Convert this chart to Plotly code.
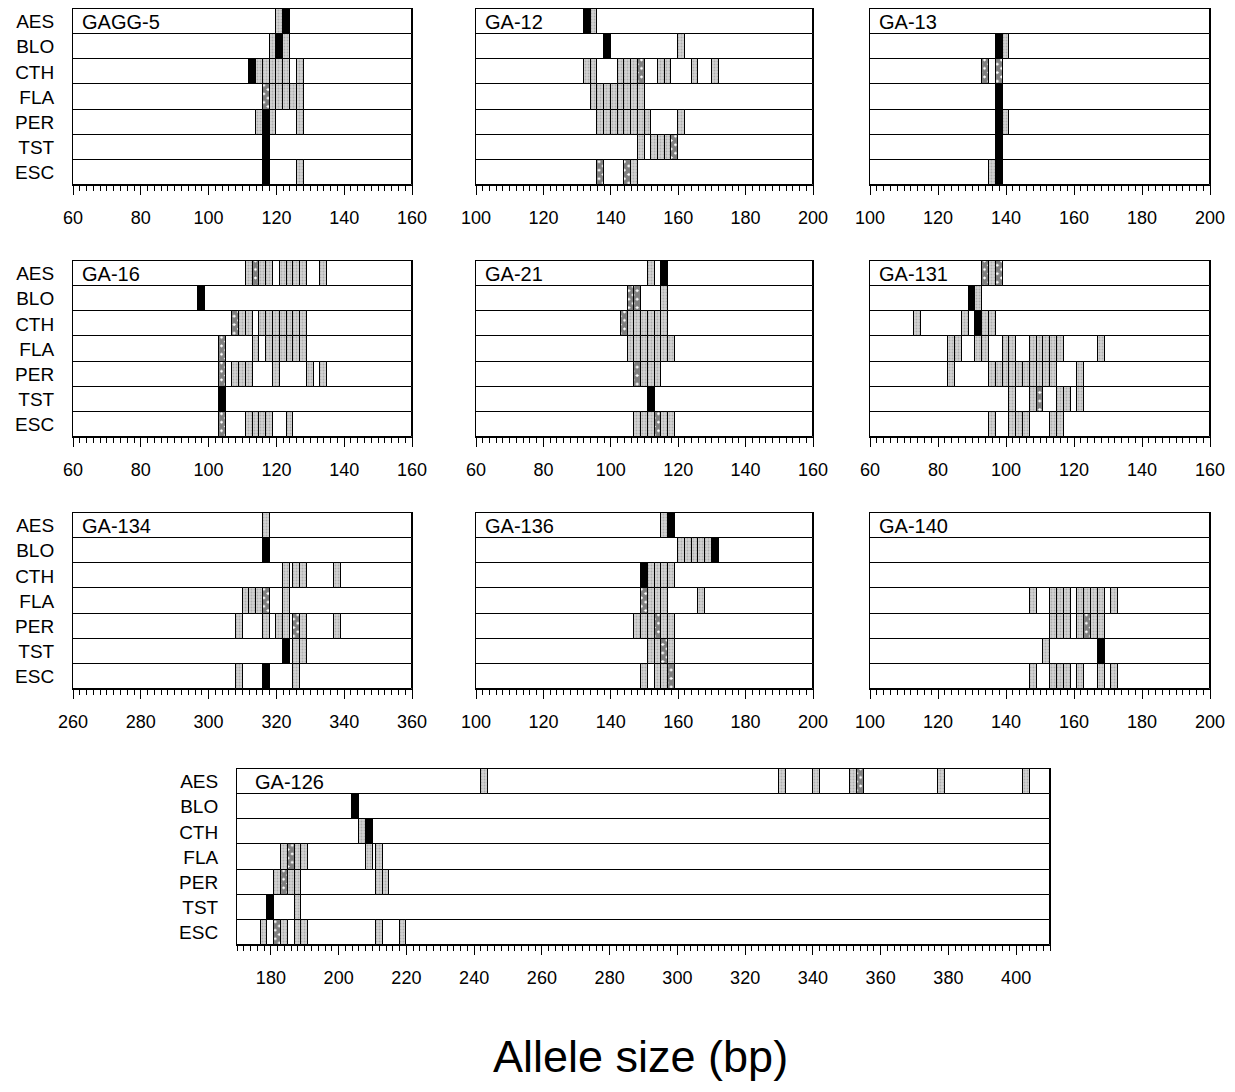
import plotly.graph_objects as go

# ---------------- data ----------------
POPULATIONS = ["AES", "BLO", "CTH", "FLA", "PER", "TST", "ESC"]
LOCI = ["GAGG-5", "GA-12", "GA-13", "GA-16", "GA-21", "GA-131",
        "GA-134", "GA-136", "GA-140", "GA-126"]
X_RANGES = [(60, 160), (100, 200), (100, 200), (60, 160), (60, 160), (60, 160),
            (260, 360), (100, 200), (100, 200), (170, 410)]

# allele (bp, centre of bar) and frequency class: L = low (stippled), M = medium (cross-hatched), H = high (black)
GAGG_5 = {
    "AES": [(121, "L"), (123, "H")],
    "BLO": [(119, "L"), (121, "H"), (123, "L")],
    "CTH": [(113, "H"), (115, "L"), (117, "L"), (119, "L"), (121, "L"), (123, "L"), (127, "L")],
    "FLA": [(117, "M"), (119, "L"), (121, "L"), (123, "L"), (125, "L"), (127, "L")],
    "PER": [(115, "L"), (117, "H"), (119, "L"), (127, "L")],
    "TST": [(117, "H")],
    "ESC": [(117, "H"), (127, "L")],
}
GA_12 = {
    "AES": [(133, "H"), (135, "L")],
    "BLO": [(139, "H"), (161, "L")],
    "CTH": [(133, "L"), (135, "L"), (143, "L"), (145, "L"), (147, "L"), (149, "M"),
            (155, "L"), (157, "L"), (165, "L"), (171, "L")],
    "FLA": [(135, "L"), (137, "L"), (139, "L"), (141, "L"), (143, "L"), (145, "L"), (147, "L"), (149, "L")],
    "PER": [(137, "L"), (139, "L"), (141, "L"), (143, "L"), (145, "L"), (147, "L"), (149, "L"),
            (151, "L"), (161, "L")],
    "TST": [(149, "L"), (153, "L"), (155, "L"), (157, "L"), (159, "M")],
    "ESC": [(137, "M"), (145, "M"), (147, "L")],
}
GA_13 = {
    "AES": [],
    "BLO": [(138, "H"), (140, "L")],
    "CTH": [(134, "M"), (138, "M")],
    "FLA": [(138, "H")],
    "PER": [(138, "H"), (140, "L")],
    "TST": [(138, "H")],
    "ESC": [(136, "L"), (138, "H")],
}
GA_16 = {
    "AES": [(112, "L"), (114, "M"), (116, "L"), (118, "L"), (122, "L"), (124, "L"), (126, "L"),
            (128, "L"), (134, "L")],
    "BLO": [(98, "H")],
    "CTH": [(108, "M"), (110, "L"), (112, "L"), (116, "L"), (118, "L"), (120, "L"), (122, "L"),
            (124, "L"), (126, "L"), (128, "L")],
    "FLA": [(104, "M"), (114, "L"), (118, "L"), (120, "L"), (122, "L"), (124, "L"), (126, "L"), (128, "L")],
    "PER": [(104, "M"), (108, "L"), (110, "L"), (112, "L"), (120, "L"), (130, "L"), (134, "L")],
    "TST": [(104, "H")],
    "ESC": [(104, "M"), (112, "L"), (114, "L"), (116, "L"), (118, "L"), (124, "L")],
}
GA_21 = {
    "AES": [(112, "L"), (116, "H")],
    "BLO": [(106, "M"), (108, "M"), (116, "L")],
    "CTH": [(104, "M"), (106, "L"), (108, "L"), (110, "L"), (112, "L"), (114, "L"), (116, "L")],
    "FLA": [(106, "L"), (108, "L"), (110, "L"), (112, "L"), (114, "L"), (116, "L"), (118, "L")],
    "PER": [(108, "M"), (110, "L"), (112, "L"), (114, "L")],
    "TST": [(112, "H")],
    "ESC": [(108, "L"), (110, "L"), (112, "L"), (114, "M"), (116, "L"), (118, "L")],
}
GA_131 = {
    "AES": [(94, "M"), (96, "L"), (98, "M")],
    "BLO": [(90, "H"), (92, "L")],
    "CTH": [(74, "L"), (88, "L"), (92, "H"), (94, "L"), (96, "L")],
    "FLA": [(84, "L"), (86, "L"), (92, "L"), (94, "L"), (100, "L"), (102, "L"), (108, "L"), (110, "L"),
            (112, "L"), (114, "L"), (116, "L"), (128, "L")],
    "PER": [(84, "L"), (96, "L"), (98, "L"), (100, "L"), (102, "L"), (104, "L"), (106, "L"), (108, "L"),
            (110, "L"), (112, "L"), (114, "L"), (122, "L")],
    "TST": [(102, "L"), (108, "L"), (110, "M"), (116, "L"), (118, "L"), (122, "L")],
    "ESC": [(96, "L"), (102, "L"), (104, "L"), (106, "L"), (114, "L"), (116, "L")],
}
GA_134 = {
    "AES": [(317, "L")],
    "BLO": [(317, "H")],
    "CTH": [(323, "L"), (326, "L"), (328, "L"), (338, "L")],
    "FLA": [(311, "L"), (313, "L"), (315, "L"), (317, "M"), (323, "L")],
    "PER": [(309, "L"), (317, "L"), (321, "L"), (323, "L"), (326, "M"), (328, "L"), (338, "L")],
    "TST": [(323, "H"), (326, "L"), (328, "L")],
    "ESC": [(309, "L"), (317, "H"), (326, "L")],
}
GA_136 = {
    "AES": [(156, "L"), (158, "H")],
    "BLO": [(161, "L"), (163, "L"), (165, "L"), (167, "L"), (169, "L"), (171, "H")],
    "CTH": [(150, "H"), (152, "L"), (154, "L"), (156, "L"), (158, "L")],
    "FLA": [(150, "M"), (152, "L"), (154, "L"), (156, "L"), (167, "L")],
    "PER": [(148, "L"), (150, "L"), (152, "L"), (154, "M"), (156, "L"), (158, "L")],
    "TST": [(152, "L"), (154, "L"), (156, "M"), (158, "L")],
    "ESC": [(150, "L"), (154, "L"), (156, "L"), (158, "M")],
}
GA_140 = {
    "AES": [],
    "BLO": [],
    "CTH": [],
    "FLA": [(148, "L"), (154, "L"), (156, "L"), (158, "L"), (162, "L"), (164, "L"), (166, "L"),
            (168, "L"), (172, "L")],
    "PER": [(154, "L"), (156, "L"), (158, "L"), (162, "L"), (164, "M"), (166, "L"), (168, "L")],
    "TST": [(152, "L"), (168, "H")],
    "ESC": [(148, "L"), (154, "L"), (156, "L"), (158, "L"), (162, "L"), (168, "L"), (172, "L")],
}
GA_126 = {
    "AES": [(243, "L"), (331, "L"), (341, "L"), (352, "L"), (354, "M"), (378, "L"), (403, "L")],
    "BLO": [(205, "H")],
    "CTH": [(207, "L"), (209, "H")],
    "FLA": [(184, "L"), (186, "M"), (188, "L"), (190, "L"), (209, "L"), (212, "L")],
    "PER": [(182, "L"), (184, "M"), (186, "L"), (188, "L"), (212, "L"), (214, "L")],
    "TST": [(180, "H"), (188, "L")],
    "ESC": [(178, "L"), (182, "M"), (184, "L"), (188, "L"), (190, "L"), (212, "L"), (219, "L")],
}
ALLELES = [GAGG_5, GA_12, GA_13, GA_16, GA_21, GA_131, GA_134, GA_136, GA_140, GA_126]
BAR_WIDTH_BP = 2

# ---------------- layout (pixels, in page coordinates) ----------------
PAGE_OFFSET = 8          # default body margin of the html page
W, H = 1235 - 2 * PAGE_OFFSET, 1092 - 2 * PAGE_OFFSET
COLS = [(73, 412), (476, 813), (870, 1210)]
ROWS = [(9, 185), (261, 437), (513, 689)]
BOTTOM_X = (237, 1050)
BOTTOM_Y = (769, 945)


def fx(px):
    return (px - PAGE_OFFSET) / W


def fy(py):
    return 1 - (py - PAGE_OFFSET) / H


FONT = "Liberation Sans, Arial, sans-serif"

STYLES = {
    "L": dict(color="#cccccc", line=dict(color="black", width=1),
              pattern=dict(shape=".", fgcolor="#8a8a8a", bgcolor="#d2d2d2", size=3, solidity=0.3)),
    "M": dict(color="white", line=dict(color="black", width=1),
              pattern=dict(shape="x", fgcolor="black", bgcolor="white", size=6, solidity=0.85)),
    "H": dict(color="black", line=dict(color="black", width=1)),
}

fig = go.Figure()

panels = []
for i in range(9):
    panels.append((COLS[i % 3], ROWS[i // 3], i % 3 == 0))
panels.append((BOTTOM_X, BOTTOM_Y, True))

layout_axes = {}
for i, (locus, xr, data) in enumerate(zip(LOCI, X_RANGES, ALLELES)):
    k = i + 1
    xa = "x" if k == 1 else f"x{k}"
    ya = "y" if k == 1 else f"y{k}"
    (px0, px1), (py0, py1), show_labels = panels[i]

    # background row boxes
    fig.add_trace(go.Bar(
        orientation="h", y=list(range(len(POPULATIONS))),
        base=[xr[0]] * len(POPULATIONS), x=[xr[1] - xr[0]] * len(POPULATIONS),
        width=1, marker=dict(color="white", line=dict(color="black", width=1)),
        xaxis=xa, yaxis=ya, showlegend=False, hoverinfo="skip"))

    for cls in ["L", "M", "H"]:
        ys, bases, lens = [], [], []
        for r, pop in enumerate(POPULATIONS):
            for allele, c in data[pop]:
                if c == cls:
                    ys.append(r)
                    bases.append(allele - BAR_WIDTH_BP / 2)
                    lens.append(BAR_WIDTH_BP)
        if ys:
            fig.add_trace(go.Bar(
                orientation="h", y=ys, base=bases, x=lens, width=1,
                marker=STYLES[cls], xaxis=xa, yaxis=ya, showlegend=False))

    xkey = "xaxis" if k == 1 else f"xaxis{k}"
    ykey = "yaxis" if k == 1 else f"yaxis{k}"
    layout_axes[xkey] = dict(
        domain=[fx(px0), fx(px1)], anchor=ya, range=list(xr), automargin=False,
        tick0=0, dtick=20, ticks="outside", ticklen=9, tickwidth=1, tickcolor="black",
        minor=dict(tick0=0, dtick=2, ticks="outside", ticklen=5, tickwidth=1, tickcolor="black"),
        showgrid=False, zeroline=False, showline=True, mirror=True, linecolor="black", linewidth=1,
        tickfont=dict(family=FONT, size=18, color="black"), ticklabelstandoff=7,
        fixedrange=True)
    layout_axes[ykey] = dict(
        domain=[fy(py1), fy(py0)], anchor=xa, range=[len(POPULATIONS) - 0.5, -0.5],
        automargin=False,
        tickvals=list(range(len(POPULATIONS))), ticktext=POPULATIONS,
        showticklabels=show_labels, ticks="", showgrid=False, zeroline=False,
        showline=True, mirror=True, linecolor="black", linewidth=1,
        tickfont=dict(family=FONT, size=19, color="black"), ticklabelstandoff=14,
        fixedrange=True)

    fig.add_annotation(
        text=locus, xref=f"{xa} domain", yref=f"{ya} domain",
        x=0.02, y=1 - 0.5 / len(POPULATIONS), xanchor="left", yanchor="middle",
        showarrow=False, font=dict(family=FONT, size=20, color="black"))

fig.add_annotation(
    text="Allele size (bp)", xref="paper", yref="paper",
    x=fx(640), y=0, xanchor="center", yanchor="bottom",
    showarrow=False, font=dict(family=FONT, size=45, color="black"))

fig.update_layout(
    width=W, height=H, margin=dict(l=0, r=0, t=0, b=0, autoexpand=False),
    paper_bgcolor="white", plot_bgcolor="white",
    barmode="overlay", bargap=0, showlegend=False,
    **layout_axes)

fig.write_html("out.html")
